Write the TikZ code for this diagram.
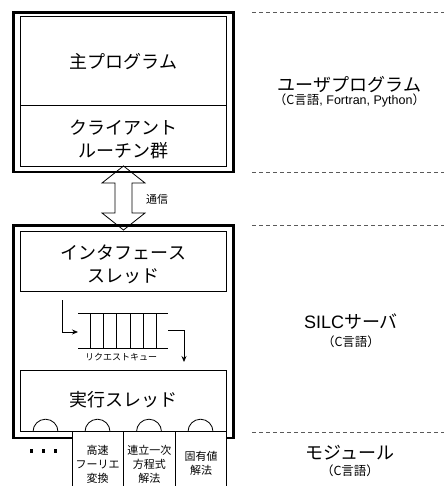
\documentclass[tikz,border=0pt]{standalone}
\usepackage{fontspec}
\setmainfont{Noto Sans CJK JP}
\newfontfamily\latn{Liberation Sans}
\usetikzlibrary{arrows.meta}
\definecolor{sepgray}{RGB}{90,90,90}
\begin{document}
\begin{tikzpicture}[x=1pt,y=-1pt,
  outerbox/.style={draw, line width=2.7pt},
  innerbox/.style={draw, line width=0.8pt},
  thinline/.style={line width=0.8pt},
  sep/.style={draw=sepgray, line width=0.8pt, dash pattern=on 4pt off 3pt},
  biglbl/.style={font=\fontsize{18}{23}\selectfont, align=center, inner sep=0pt},
  sublbl/.style={font=\fontsize{12.5}{14}\selectfont, align=center, inner sep=0pt},
  modlbl/.style={font=\fontsize{11}{14}\selectfont, align=center, inner sep=0pt},
  qlbl/.style={font=\fontsize{9}{11}\selectfont, inner sep=0pt},
  arr/.style={thinline, -{Stealth[length=6pt,width=5pt]}}]
\useasboundingbox (0,0) rectangle (444,486);

% separators
\foreach \yy/\nm in {12/s1,172/s2,225/s3,432/s4}{
  \coordinate (\nm a) at (252,\yy); \coordinate (\nm b) at (444,\yy);
  \draw[sep] (\nm a) -- (\nm b);
}

% double arrow (communication)
\draw[thinline, fill=white] (123.5,166) -- (145,183) -- (132,183) -- (132,213) -- (145,213)
  -- (123.5,230) -- (102,213) -- (115,213) -- (115,183) -- (102,183) -- cycle;
\node[font=\fontsize{11}{13}\selectfont, inner sep=0pt] (comm) at (157,199) {通信};

% user program
\draw[outerbox] (13.7,12.2) rectangle (233.3,172);
\draw[innerbox] (20,16.7) rectangle (226.7,166);
\draw[thinline] (20,105) -- (226.7,105);
\node[biglbl] (main) at (123.5,62) {主プログラム};
\node[biglbl] (client) at (123.5,139.5) {クライアント\\ルーチン群};

% server outer box
\draw[outerbox] (13.7,225.3) rectangle (233.3,438);

% modules (cover the bottom of the outer box)
\fill[white] (72,432.5) rectangle (226.7,486);
\draw[thinline] (72,431.7) -- (72,486);
\draw[thinline] (123.5,431.7) -- (123.5,486);
\draw[thinline] (175,431.7) -- (175,486);
\draw[thinline] (226.7,431.7) -- (226.7,486);
\node[modlbl] (fft) at (97.7,464) {高速\\フーリエ\\変換};
\node[modlbl] (lin) at (149.3,464) {連立一次\\方程式\\解法};
\node[modlbl] (eig) at (201,463) {固有値\\解法};
\foreach \xx in {31.5,43.5,55.5}{\fill (\xx-1.8,449.2) rectangle (\xx+1.8,452.8);}

% interface thread
\draw[innerbox] (20,231.7) rectangle (226.7,291.7);
\node[biglbl] (iface) at (123.5,264) {インタフェース\\スレッド};

% queue
\draw[thinline] (78,313) -- (168,313);
\draw[thinline] (78,348) -- (168,348);
\foreach \xx in {90,103,116.5,130,143,156}{\draw[thinline] (\xx,313) -- (\xx,348);}
\node[qlbl] (qname) at (121,357) {リクエストキュー};
\coordinate (qin0) at (62,300);
\coordinate (qin1) at (78,332);
\draw[arr] (qin0) |- (qin1);
\coordinate (qout0) at (168,330);
\coordinate (qout1) at (184,362);
\draw[arr] (qout0) -| (qout1);

% execution thread
\draw[innerbox] (20,370) rectangle (226.7,431.7);
\node[biglbl] (exec) at (123.5,400) {実行スレッド};
\foreach \xx in {45.5,97.5,149,200.5}{
  \draw[thinline] (\xx-12.5,431.7) arc[start angle=180, end angle=360, radius=12.5];
}

% right labels
\node[biglbl] (ulbl) at (349.5,85) {ユーザプログラム};
\node[sublbl] (usub) at (349.5,100.5) {（C言語{\latn , Fortran, Python}）};
\node[biglbl] (slbl) at (351,322) {{\latn SILC}サーバ};
\node[sublbl] (ssub) at (351,342) {（C言語）};
\node[biglbl] (mlbl) at (350,453) {モジュール};
\node[sublbl] (msub) at (350,471) {（C言語）};
\end{tikzpicture}
\end{document}
